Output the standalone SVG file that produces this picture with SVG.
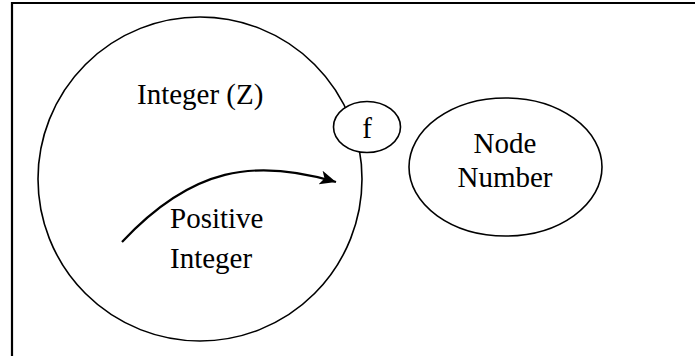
<svg xmlns="http://www.w3.org/2000/svg" width="695" height="356" viewBox="0 0 695 356">
  <style>
    .shape { fill: #ffffff; stroke: #000000; stroke-width: 1.6; }
    .lbl { font-family: 'Liberation Serif', serif; font-size: 29px; fill: #000000; }
    .frame { fill: none; stroke: #000000; stroke-width: 2.2; }
    .conn { fill: none; stroke: #000000; stroke-width: 2.2; }
  </style>
  <defs>
    <marker id="arrow" markerUnits="userSpaceOnUse" markerWidth="18" markerHeight="16" refX="16" refY="7" orient="auto">
      <path d="M0,0 L16,7 L0,14 L4,7 Z" fill="#000000"/>
    </marker>
  </defs>
  <rect width="695" height="356" fill="#ffffff"/>
  <g id="frame">
    <path class="frame" d="M12,356 L12,3 L695,3"/>
  </g>
  <g id="node-integer">
    <circle class="shape" cx="200" cy="179" r="162"/>
    <text class="lbl" x="137" y="104">Integer (Z)</text>
    <text class="lbl" x="170" y="228">Positive</text>
    <text class="lbl" x="170" y="268">Integer</text>
  </g>
  <g id="node-f">
    <ellipse class="shape" cx="367" cy="127" rx="33.5" ry="25.5"/>
    <text class="lbl" x="367" y="138" text-anchor="middle">f</text>
  </g>
  <g id="node-number">
    <ellipse class="shape" cx="505.5" cy="167" rx="96.5" ry="69"/>
    <text class="lbl" x="505" y="153" text-anchor="middle">Node</text>
    <text class="lbl" x="505" y="187" text-anchor="middle">Number</text>
  </g>
  <g id="connectors">
    <path class="conn" d="M122,242 C192,167 255,158 336,182" marker-end="url(#arrow)"/>
  </g>
</svg>
